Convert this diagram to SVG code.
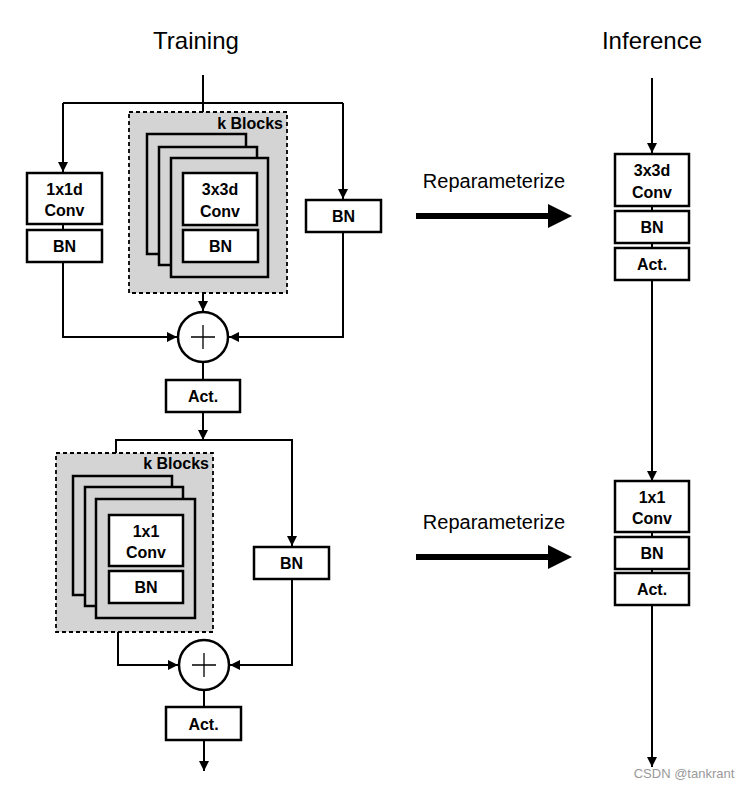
<svg xmlns="http://www.w3.org/2000/svg" width="751" height="787" viewBox="0 0 751 787">
<style>
.b{fill:#fff;stroke:#000;stroke-width:2.5}
.s{fill:#d4d4d4;stroke:#000;stroke-width:2.5}
.d{fill:#d4d4d4;stroke:#000;stroke-width:1.8;stroke-dasharray:4 3}
.t{font-family:"Liberation Sans",Arial,sans-serif;font-weight:bold;font-size:16px;text-anchor:middle}
.h{font-family:"Liberation Sans",Arial,sans-serif;font-size:24px;text-anchor:middle}
.r{font-family:"Liberation Sans",Arial,sans-serif;font-size:20px;text-anchor:middle}
.l{fill:none;stroke:#000;stroke-width:2}
</style>
<defs><marker id="a" viewBox="0 0 10 10" refX="10" refY="5" markerWidth="5" markerHeight="5" markerUnits="strokeWidth" orient="auto"><path d="M0,0L10,5L0,10z"/></marker></defs>
<rect width="751" height="787" fill="#fff"/>
<text class="h" x="196" y="49">Training</text>
<text class="h" x="652" y="49">Inference</text>
<g id="conn">
<path class="l" d="M203,75V132" marker-end="url(#a)"/>
<path class="l" d="M63,103H343"/>
<path class="l" d="M63,103V172" marker-end="url(#a)"/>
<path class="l" d="M343,103V199" marker-end="url(#a)"/>
<path class="l" d="M203,277V311" marker-end="url(#a)"/>
<path class="l" d="M63,262V337H177" marker-end="url(#a)"/>
<path class="l" d="M343,232V337H229" marker-end="url(#a)"/>
<path class="l" d="M203,362V380"/>
<path class="l" d="M203,412V440" marker-end="url(#a)"/>
<path class="l" d="M116,453V440H292V546" marker-end="url(#a)"/>
<path class="l" d="M118,632V665H178" marker-end="url(#a)"/>
<path class="l" d="M292,579V665H230" marker-end="url(#a)"/>
<path class="l" d="M204,690V707"/>
<path class="l" d="M204,740V771" marker-end="url(#a)"/>
<path class="l" d="M652,78V153" marker-end="url(#a)"/>
<path class="l" d="M652,280V481" marker-end="url(#a)"/>
<path class="l" d="M652,605V767" marker-end="url(#a)"/>
<path class="l" d="M652,206V211M652,243V248M652,532V537M652,569V573M63,224V230"/>
<path d="M416,216H550" stroke="#000" stroke-width="6"/>
<path d="M548,204L572,216L548,228z"/>
<path d="M416,557H550" stroke="#000" stroke-width="6"/>
<path d="M548,545L572,557L548,569z"/>
</g>
<text class="r" x="494" y="188">Reparameterize</text>
<text class="r" x="494" y="529">Reparameterize</text>
<g id="n1x1d"><rect class="b" x="27" y="173" width="75" height="51"/><text class="t" x="64.5" y="195">1x1d</text><text class="t" x="64.5" y="216">Conv</text></g>
<g id="nbnL"><rect class="b" x="27" y="230" width="75" height="32"/><text class="t" x="64.5" y="252">BN</text></g>
<g id="kblock1">
<rect class="d" x="129" y="112" width="158" height="181"/>
<text class="t" x="283" y="129" style="text-anchor:end">k Blocks</text>
<rect class="s" x="147" y="134" width="99" height="120"/>
<rect class="s" x="159" y="147" width="98" height="118"/>
<rect class="s" x="171" y="158" width="97" height="119"/>
<rect class="b" x="183" y="173" width="74" height="52"/><text class="t" x="220" y="195">3x3d</text><text class="t" x="220" y="217">Conv</text>
<rect class="b" x="183" y="230" width="75" height="32"/><text class="t" x="220.5" y="252">BN</text>
</g>
<g id="nbnR"><rect class="b" x="306" y="200" width="75" height="32"/><text class="t" x="343.5" y="222">BN</text></g>
<g id="add1"><circle class="b" cx="203" cy="337" r="25" stroke-width="2"/><path d="M191,337H215M203,325V349" stroke="#000" stroke-width="1.3"/></g>
<g id="act1"><rect class="b" x="166" y="380" width="74" height="32"/><text class="t" x="203" y="402">Act.</text></g>
<g id="kblock2">
<rect class="d" x="56" y="453" width="157" height="179"/>
<text class="t" x="209" y="469" style="text-anchor:end">k Blocks</text>
<rect class="s" x="73" y="476" width="99" height="119"/>
<rect class="s" x="85" y="487" width="98" height="119"/>
<rect class="s" x="96" y="499" width="99" height="119"/>
<rect class="b" x="109" y="515" width="74" height="51"/><text class="t" x="146" y="537">1x1</text><text class="t" x="146" y="558">Conv</text>
<rect class="b" x="109" y="571" width="74" height="32"/><text class="t" x="146" y="593">BN</text>
</g>
<g id="nbn2"><rect class="b" x="254" y="547" width="75" height="32"/><text class="t" x="291.5" y="569">BN</text></g>
<g id="add2"><circle class="b" cx="204" cy="665" r="25" stroke-width="2"/><path d="M192,665H216M204,653V677" stroke="#000" stroke-width="1.3"/></g>
<g id="act2"><rect class="b" x="166" y="707" width="75" height="33"/><text class="t" x="203.5" y="730">Act.</text></g>
<g id="inf1"><rect class="b" x="615" y="154" width="74" height="52"/><text class="t" x="652" y="176">3x3d</text><text class="t" x="652" y="198">Conv</text></g>
<g id="inf1bn"><rect class="b" x="615" y="211" width="74" height="32"/><text class="t" x="652" y="233">BN</text></g>
<g id="inf1act"><rect class="b" x="615" y="248" width="74" height="32"/><text class="t" x="652" y="270">Act.</text></g>
<g id="inf2"><rect class="b" x="615" y="481" width="74" height="51"/><text class="t" x="652" y="503">1x1</text><text class="t" x="652" y="524">Conv</text></g>
<g id="inf2bn"><rect class="b" x="615" y="537" width="74" height="32"/><text class="t" x="652" y="559">BN</text></g>
<g id="inf2act"><rect class="b" x="615" y="573" width="74" height="32"/><text class="t" x="652" y="595">Act.</text></g>
<text x="684" y="778" font-family="Liberation Sans,Arial,sans-serif" font-size="13" fill="#999" text-anchor="middle">CSDN @tankrant</text>
</svg>
